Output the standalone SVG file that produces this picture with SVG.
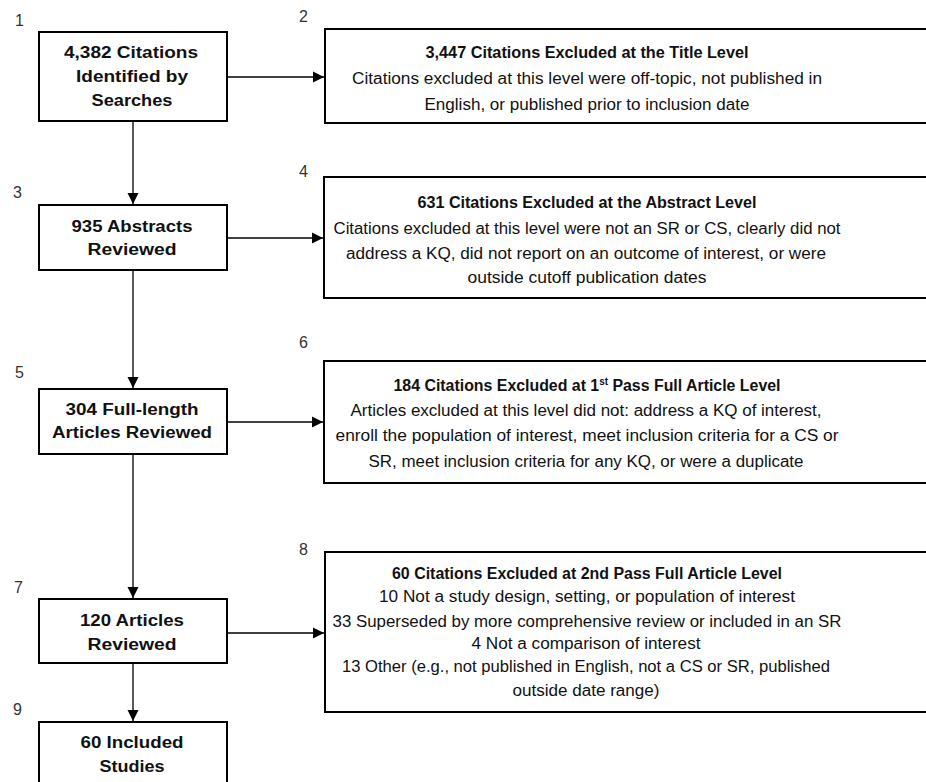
<svg xmlns="http://www.w3.org/2000/svg" width="926" height="782" viewBox="0 0 926 782">
<style>
.box{fill:#fff;stroke:#000;stroke-width:2}
.t{font-family:"Liberation Sans",Arial,sans-serif;font-size:16px;fill:#111;text-anchor:middle}
.b{font-weight:bold}
.num{font-family:"Liberation Sans",Arial,sans-serif;font-size:16px;fill:#333}
.c{fill:none;stroke:#000;stroke-width:1.3}
</style>
<defs>
<marker id="ah" markerUnits="userSpaceOnUse" markerWidth="12" markerHeight="12" refX="11" refY="6" orient="auto">
<path d="M0,0.5 L11,6 L0,11.5 Z" fill="#000"/>
</marker>
</defs>
<rect width="926" height="782" fill="#fff"/>
<g id="connectors">
<path class="c" d="M227,77 H324" marker-end="url(#ah)"/>
<path class="c" d="M133,121 V204" marker-end="url(#ah)"/>
<path class="c" d="M227,238 H323" marker-end="url(#ah)"/>
<path class="c" d="M133,270 V388" marker-end="url(#ah)"/>
<path class="c" d="M227,422 H323" marker-end="url(#ah)"/>
<path class="c" d="M133,454 V598" marker-end="url(#ah)"/>
<path class="c" d="M227,633 H324" marker-end="url(#ah)"/>
<path class="c" d="M133,663 V721" marker-end="url(#ah)"/>
</g>
<g id="labels">
<text class="num" x="15" y="26">1</text>
<text class="num" x="299" y="22">2</text>
<text class="num" x="13" y="198">3</text>
<text class="num" x="299" y="177">4</text>
<text class="num" x="15" y="378">5</text>
<text class="num" x="299" y="348">6</text>
<text class="num" x="14" y="593">7</text>
<text class="num" x="299" y="555">8</text>
<text class="num" x="13" y="715">9</text>
</g>
<g id="n1">
<rect class="box" x="39" y="32" width="188" height="89"/>
<text class="t b" x="131" y="58" textLength="134" lengthAdjust="spacingAndGlyphs">4,382 Citations</text>
<text class="t b" x="132" y="82" textLength="112" lengthAdjust="spacingAndGlyphs">Identified by</text>
<text class="t b" x="132" y="106" textLength="81" lengthAdjust="spacingAndGlyphs">Searches</text>
</g>
<g id="n2">
<rect class="box" x="325" y="29" width="610" height="94"/>
<text class="t b" x="587" y="58" textLength="323" lengthAdjust="spacingAndGlyphs">3,447 Citations Excluded at the Title Level</text>
<text class="t" x="587" y="84" textLength="470" lengthAdjust="spacingAndGlyphs">Citations excluded at this level were off-topic, not published in</text>
<text class="t" x="587" y="110" textLength="325" lengthAdjust="spacingAndGlyphs">English, or published prior to inclusion date</text>
</g>
<g id="n3">
<rect class="box" x="39" y="205" width="188" height="65"/>
<text class="t b" x="132" y="232" textLength="121" lengthAdjust="spacingAndGlyphs">935 Abstracts</text>
<text class="t b" x="132" y="255" textLength="89" lengthAdjust="spacingAndGlyphs">Reviewed</text>
</g>
<g id="n4">
<rect class="box" x="324" y="177" width="611" height="121"/>
<text class="t b" x="587" y="208" textLength="339" lengthAdjust="spacingAndGlyphs">631 Citations Excluded at the Abstract Level</text>
<text class="t" x="587" y="234" textLength="507" lengthAdjust="spacingAndGlyphs">Citations excluded at this level were not an SR or CS, clearly did not</text>
<text class="t" x="586" y="259" textLength="480" lengthAdjust="spacingAndGlyphs">address a KQ, did not report on an outcome of interest, or were</text>
<text class="t" x="587" y="283" textLength="239" lengthAdjust="spacingAndGlyphs">outside cutoff publication dates</text>
</g>
<g id="n5">
<rect class="box" x="39" y="389" width="188" height="65"/>
<text class="t b" x="132" y="415" textLength="133" lengthAdjust="spacingAndGlyphs">304 Full-length</text>
<text class="t b" x="132" y="438" textLength="160" lengthAdjust="spacingAndGlyphs">Articles Reviewed</text>
</g>
<g id="n6">
<rect class="box" x="324" y="361" width="611" height="122"/>
<text class="t b" x="587" y="391" textLength="387" lengthAdjust="spacingAndGlyphs">184 Citations Excluded at 1<tspan dy="-6" style="font-size:10px">st</tspan><tspan dy="6"> Pass Full Article Level</tspan></text>
<text class="t" x="586" y="416" textLength="471" lengthAdjust="spacingAndGlyphs">Articles excluded at this level did not: address a KQ of interest,</text>
<text class="t" x="587" y="441" textLength="503" lengthAdjust="spacingAndGlyphs">enroll the population of interest, meet inclusion criteria for a CS or</text>
<text class="t" x="586" y="467" textLength="435" lengthAdjust="spacingAndGlyphs">SR, meet inclusion criteria for any KQ, or were a duplicate</text>
</g>
<g id="n7">
<rect class="box" x="39" y="599" width="188" height="64"/>
<text class="t b" x="132" y="626" textLength="104" lengthAdjust="spacingAndGlyphs">120 Articles</text>
<text class="t b" x="132" y="650" textLength="89" lengthAdjust="spacingAndGlyphs">Reviewed</text>
</g>
<g id="n8">
<rect class="box" x="325" y="552" width="610" height="160"/>
<text class="t b" x="587" y="579" textLength="390" lengthAdjust="spacingAndGlyphs">60 Citations Excluded at 2nd Pass Full Article Level</text>
<text class="t" x="587" y="602" textLength="416" lengthAdjust="spacingAndGlyphs">10 Not a study design, setting, or population of interest</text>
<text class="t" x="587" y="627" textLength="509" lengthAdjust="spacingAndGlyphs">33 Superseded by more comprehensive review or included in an SR</text>
<text class="t" x="586" y="649" textLength="229" lengthAdjust="spacingAndGlyphs">4 Not a comparison of interest</text>
<text class="t" x="586" y="672" textLength="488" lengthAdjust="spacingAndGlyphs">13 Other (e.g., not published in English, not a CS or SR, published</text>
<text class="t" x="586" y="696" textLength="147" lengthAdjust="spacingAndGlyphs">outside date range)</text>
</g>
<g id="n9">
<rect class="box" x="39" y="722" width="188" height="70"/>
<text class="t b" x="132" y="748" textLength="103" lengthAdjust="spacingAndGlyphs">60 Included</text>
<text class="t b" x="132" y="772" textLength="65" lengthAdjust="spacingAndGlyphs">Studies</text>
</g>
</svg>
